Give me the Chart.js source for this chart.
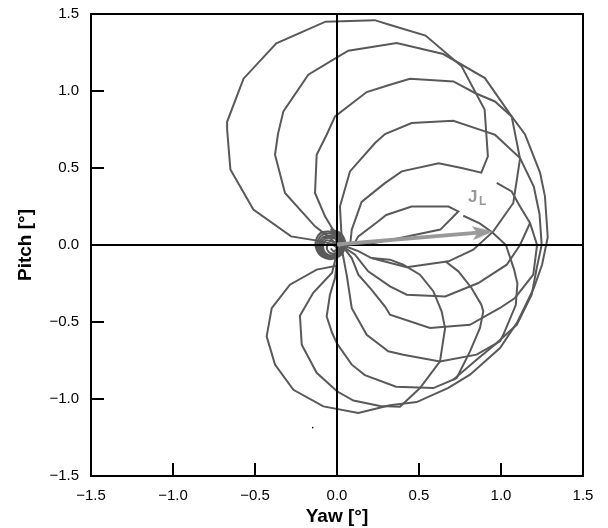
<!DOCTYPE html>
<html>
<head>
<meta charset="utf-8">
<script src="https://cdn.jsdelivr.net/npm/chart.js@4.4.1/dist/chart.umd.min.js"></script>
<style>
  html, body { margin: 0; padding: 0; background: #fff; }
</style>
</head>
<body>
<canvas id="canvas" width="608" height="528"></canvas>
<script>
// tick values on both axes
const xTicks = [-1.5, -1.0, -0.5, 0.0, 0.5, 1.0, 1.5];
const yTicks = [-1.5, -1.0, -0.5, 0.0, 0.5, 1.0, 1.5];

// traced loops (yaw, pitch)
const loopA = [[0.0,0.0],[-0.13,0.03],[-0.28,0.056],[-0.51,0.23],[-0.65,0.49],[-0.67,0.75],[-0.67,0.80],[-0.57,1.08],[-0.37,1.31],[-0.07,1.45],[0.23,1.46],[0.32,1.43],[0.54,1.36],[0.76,1.16],[0.90,0.88],[0.91,0.73],[0.92,0.575],[0.88,0.47],[0.76,0.50],[0.62,0.53],[0.395,0.478],[0.29,0.40],[0.15,0.28],[0.09,0.10],[0.08,0.0]];
const loopB = [[0.0,0.0],[-0.055,0.056],[-0.134,0.121],[-0.317,0.338],[-0.378,0.586],[-0.36,0.72],[-0.327,0.868],[-0.175,1.106],[0.0,1.218],[0.069,1.262],[0.364,1.312],[0.648,1.24],[0.902,1.084],[1.065,0.835],[1.116,0.56],[1.075,0.273],[0.953,0.088],[0.831,-0.03],[0.68,-0.106],[0.425,-0.145],[0.21,-0.085],[0.13,-0.04],[0.03,0.0]];
const loopC = [[0.0,0.0],[-0.012,0.078],[-0.073,0.186],[-0.134,0.338],[-0.124,0.586],[-0.063,0.716],[-0.012,0.835],[0.181,0.993],[0.323,1.041],[0.445,1.08],[0.71,1.062],[0.841,0.987],[0.963,0.932],[1.065,0.835],[1.146,0.72],[1.238,0.47],[1.268,0.316],[1.285,0.05],[1.25,-0.13],[1.20,-0.28],[1.10,-0.50],[0.994,-0.669],[0.811,-0.842],[0.679,-0.928],[0.486,-1.02],[0.323,-1.04],[0.13,-1.09],[-0.083,-1.048],[-0.266,-0.94],[-0.378,-0.777],[-0.429,-0.593],[-0.398,-0.41],[-0.287,-0.258],[-0.124,-0.16],[0.0,-0.135],[0.0,-0.05]];
const loopD = [[0.0,0.0],[0.029,0.034],[0.018,0.25],[0.079,0.478],[0.232,0.662],[0.293,0.72],[0.455,0.792],[0.709,0.807],[0.902,0.738],[0.963,0.716],[1.116,0.565],[1.2,0.38],[1.235,0.2],[1.248,0.0],[1.218,-0.149],[1.187,-0.323],[1.096,-0.518],[0.96,-0.65],[0.851,-0.745],[0.709,-0.875],[0.587,-0.929],[0.36,-0.92],[0.17,-0.845],[0.09,-0.777],[0.0,-0.64],[-0.03,-0.57],[-0.063,-0.464],[-0.043,-0.323],[-0.012,-0.214],[0.0,-0.1]];
const loopE = [[0.03,-0.03],[0.06,-0.2],[0.09,-0.41],[0.181,-0.583],[0.313,-0.69],[0.404,-0.712],[0.628,-0.756],[0.851,-0.712],[0.994,-0.626],[1.014,-0.583],[1.09,-0.39],[1.10,-0.25],[1.08,-0.16],[1.03,0.0],[0.95,0.08],[0.87,0.14],[0.77,0.19]];
const loopF = [[0.974,0.403],[1.065,0.348],[1.116,0.25],[1.177,0.143],[1.22,0.0],[1.197,-0.193],[1.085,-0.344],[0.994,-0.409],[0.811,-0.518],[0.567,-0.539],[0.323,-0.453],[0.293,-0.40],[0.21,-0.29],[0.13,-0.193],[0.09,-0.085],[0.05,-0.03]];
const loopG = [[0.05,-0.02],[0.11,-0.063],[0.19,-0.171],[0.323,-0.269],[0.425,-0.323],[0.66,-0.334],[0.862,-0.247],[1.035,-0.128],[1.116,0.0],[1.177,0.143]];
const loopH = [[0.66,-0.106],[0.74,-0.171],[0.82,-0.279],[0.88,-0.388],[0.892,-0.431],[0.872,-0.539],[0.811,-0.691],[0.73,-0.864],[0.709,-0.875]];
const loopI = [[0.0,-0.05],[-0.03,-0.18],[-0.145,-0.31],[-0.226,-0.46],[-0.215,-0.647],[-0.124,-0.83],[0.0,-0.95],[0.1,-1.01],[0.262,-1.045],[0.384,-1.05],[0.506,-0.929],[0.628,-0.756],[0.659,-0.54],[0.638,-0.431],[0.587,-0.30],[0.506,-0.193],[0.404,-0.128],[0.323,-0.095],[0.21,-0.085]];
const loopJ = [[0.1,0.0],[0.13,0.056],[0.25,0.153],[0.30,0.195],[0.455,0.25],[0.68,0.25],[0.74,0.218],[0.63,0.10],[0.384,0.045],[0.16,0.0]];
// tight spiral around the origin
const coreSpiral = [[-0.04,0.102],[0.025,0.074],[0.052,0.005],[0.025,-0.064],[-0.04,-0.092],[-0.105,-0.064],[-0.132,0.005],[-0.105,0.074],[-0.038,0.086],[0.02,0.062],[0.045,0.0],[0.021,-0.062],[-0.037,-0.088],[-0.096,-0.062],[-0.12,0.0],[-0.096,0.062],[-0.035,0.073],[0.017,0.05],[0.038,-0.005],[0.017,-0.06],[-0.035,-0.083],[-0.087,-0.06],[-0.108,-0.005],[-0.087,0.05],[-0.03,0.058],[0.012,0.04],[0.031,-0.008],[0.013,-0.056],[-0.032,-0.076],[-0.078,-0.056],[-0.096,-0.008],[-0.078,0.04],[-0.03,0.046],[0.009,0.029],[0.025,-0.012],[0.009,-0.053],[-0.03,-0.07],[-0.069,-0.053],[-0.085,-0.012],[-0.069,0.029],[-0.025,0.021],[0.001,0.01],[0.012,-0.018],[0.001,-0.046],[-0.025,-0.057],[-0.051,-0.046],[-0.062,-0.018],[-0.051,0.01],[-0.02,-0.003],[-0.002,-0.022],[-0.02,-0.041],[-0.038,-0.022]];
const strayDot = [[-0.148,-1.186]];

// J_L vector
const arrowShaft = [[0.0,0.004],[0.88,0.082]];
const arrowTip = [[0.953,0.088]];
const labelAt = [0.799,0.281];

const zeroH = [[-1.5,0],[1.5,0]];
const zeroV = [[0,-1.5],[0,1.5]];

const pts = a => a.map(([x, y]) => ({x, y}));
const FONT = '"Liberation Sans", Arial, Helvetica, sans-serif';
const fmt = v => (v < 0 ? '\u2212' : '') + Math.abs(v).toFixed(1);

// arrow head as a little canvas, tip at the centre
const head = document.createElement('canvas');
head.width = 48; head.height = 18;
const hc = head.getContext('2d');
hc.fillStyle = '#999999';
hc.beginPath();
hc.moveTo(24, 9); hc.lineTo(3, 2); hc.lineTo(8, 9); hc.lineTo(3, 16);
hc.closePath(); hc.fill();

const loops = [loopA, loopB, loopC, loopD, loopE, loopF, loopG, loopH, loopI, loopJ];
const datasets = loops.map(l => ({
  data: pts(l), showLine: true, borderColor: '#595959', borderWidth: 2,
  pointRadius: 0, tension: 0, order: 3
}));
datasets.push({ data: pts(coreSpiral), showLine: true, borderColor: '#595959', borderWidth: 2, pointRadius: 0, tension: 0.3, order: 3 });
datasets.push({ data: pts(strayDot), showLine: false, pointRadius: 0.8, backgroundColor: '#000', borderWidth: 0, order: 3 });
datasets.push({ data: pts(zeroH), showLine: true, borderColor: '#000', borderWidth: 2, pointRadius: 0, order: 2 });
datasets.push({ data: pts(zeroV), showLine: true, borderColor: '#000', borderWidth: 2, pointRadius: 0, order: 2 });
datasets.push({ data: pts(arrowShaft), showLine: true, borderColor: '#999999', borderWidth: 4, pointRadius: 0, order: 1 });
datasets.push({ data: pts(arrowTip), showLine: false, pointStyle: head, pointRotation: -4.9, pointRadius: 10, order: 0 });

const decor = {
  id: 'decor',
  afterDatasetsDraw(chart) {
    const ctx = chart.ctx;
    const x = chart.scales.x.getPixelForValue(labelAt[0]);
    const y = chart.scales.y.getPixelForValue(labelAt[1]);
    ctx.save();
    ctx.fillStyle = '#999999';
    ctx.textBaseline = 'alphabetic';
    ctx.font = 'bold 17px ' + FONT;
    ctx.fillText('J', x, y);
    ctx.font = 'bold 12px ' + FONT;
    ctx.fillText('L', x + 11, y + 3);
    ctx.restore();
  },
  afterDraw(chart) {
    const {ctx, chartArea: a, scales} = chart;
    ctx.save();
    ctx.strokeStyle = '#000';
    ctx.lineWidth = 2;
    ctx.strokeRect(a.left, a.top, a.right - a.left, a.bottom - a.top);
    ctx.beginPath();
    yTicks.forEach(v => {
      const py = Math.round(scales.y.getPixelForValue(v));
      ctx.moveTo(a.left, py); ctx.lineTo(a.left + 13, py);
    });
    xTicks.forEach(v => {
      const px = Math.round(scales.x.getPixelForValue(v));
      ctx.moveTo(px, a.bottom); ctx.lineTo(px, a.bottom - 13);
    });
    ctx.stroke();
    ctx.restore();
  }
};

new Chart(document.getElementById('canvas').getContext('2d'), {
  type: 'scatter',
  data: { datasets },
  options: {
    responsive: false,
    animation: false,
    layout: { padding: { left: 0, right: 25, top: 14, bottom: 0 } },
    plugins: { legend: { display: false }, tooltip: { enabled: false } },
    scales: {
      x: {
        min: -1.5, max: 1.5,
        afterBuildTicks: s => { s.ticks = xTicks.map(v => ({value: v})); },
        afterFit: s => { s.height = 52; s.paddingLeft = 0; s.paddingRight = 0; },
        grid: { display: false, drawTicks: false },
        border: { display: false },
        ticks: { color: '#000', padding: 11, font: { family: FONT, size: 15 }, callback: fmt, maxRotation: 0 },
        title: { display: true, text: 'Yaw [°]', color: '#000', font: { family: FONT, size: 19, weight: 'bold' }, padding: { top: 0, bottom: 0 } }
      },
      y: {
        min: -1.5, max: 1.5,
        afterBuildTicks: s => { s.ticks = yTicks.map(v => ({value: v})); },
        afterFit: s => { s.width = 91; s.paddingTop = 0; s.paddingBottom = 0; },
        grid: { display: false, drawTicks: false },
        border: { display: false },
        ticks: { color: '#000', padding: 12, font: { family: FONT, size: 15 }, callback: fmt },
        title: { display: true, text: 'Pitch [°]', color: '#000', font: { family: FONT, size: 19, weight: 'bold' }, padding: { top: 14, bottom: 0 } }
      }
    }
  },
  plugins: [decor]
});
</script>
</body>
</html>
